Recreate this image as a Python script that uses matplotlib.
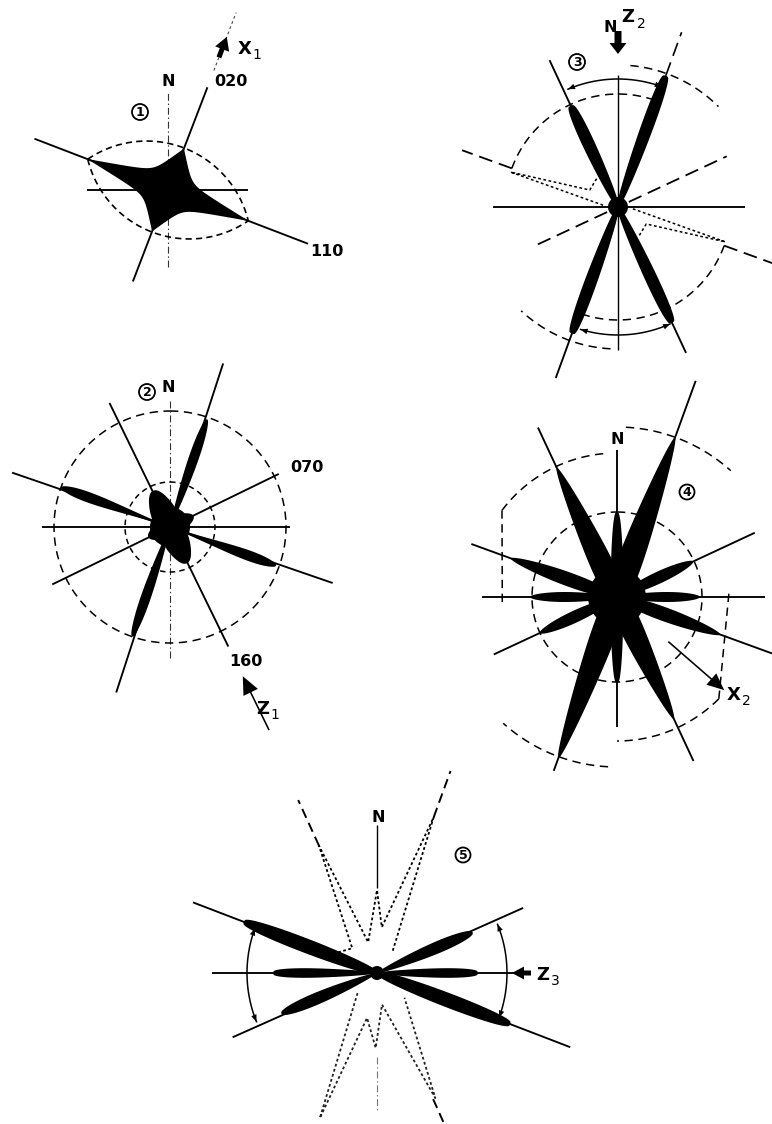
import numpy as np
import matplotlib
matplotlib.use("Agg")
import matplotlib.pyplot as plt
from matplotlib.patches import Circle, FancyArrow

plt.rcParams["lines.scale_dashes"] = False
plt.rcParams["font.family"] = ["DejaVu Sans"]

# ================= DATA =================
# azimuths in degrees clockwise from north, lengths = relative frequency (drawing scale)
p1_lobe_az = [111, 291, 21, 201]
p1_lobe_len = [86, 86, 43, 43]
p1_dir_labels = ["020", "110"]

p2_lobe_az = [19, 199, 290, 110, 335, 155, 65, 245]
p2_lobe_len = [114, 116, 116, 113, 40, 40, 26, 24]
p2_dir_labels = ["070", "160"]

p3_lobe_az = [20, 200, 335, 155]
p3_lobe_len = [140, 135, 112, 128]
p3_dot_r = [15, 113, 33, 36]
p3_dot_az = [277, 288, 301, 325]

p4_lobe_az = [20, 200, 335, 155, 0, 180, 290, 110, 65, 245, 90, 270]
p4_lobe_len = [170, 172, 143, 135, 85, 86, 113, 110, 84, 85, 83, 87]

p5_lobe_az = [291, 111, 67, 247, 90, 270]
p5_lobe_len = [143, 143, 104, 104, 101, 104]
p5_dot_n_r = [44, 35, 140, 32, 83, 46, 166, 25]
p5_dot_n_az = [298, 315, 335.5, 344, 0, 6, 20, 37]
p5_dot_s_r = [28, 156, 46, 75, 32, 138, 37]
p5_dot_s_az = [224, 201.5, 192.5, 181, 171, 155, 132]

panel_numbers = ["1", "2", "3", "4", "5"]
axis_labels = [("X", "1"), ("Z", "1"), ("Z", "2"), ("X", "2"), ("Z", "3")]

# ================= LAYOUT / STYLE =================
C1 = (168, 190)
C2 = (170, 527)
C3 = (618, 207)
C4 = (617, 597)
C5 = (377, 973)

K = "black"
LW = 1.35
THIN = 0.8
DASH = (0, (6, 4))
LDASH = (0, (10, 5))
DOT = (0, (2.0, 1.8))
DASHDOT = (0, (5, 2, 1, 2))

fig = plt.figure(figsize=(7.72, 11.24), dpi=100)
ax = fig.add_axes([0, 0, 1, 1])
ax.set_xlim(0, 772)
ax.set_ylim(1124, 0)
ax.axis("off")


def P(c, r, az):
    a = np.deg2rad(np.asarray(az, dtype=float))
    r = np.asarray(r, dtype=float)
    return c[0] + r * np.sin(a), c[1] - r * np.cos(a)


def line(c, az, rneg, rpos, **kw):
    x0, y0 = P(c, rneg, az + 180)
    x1, y1 = P(c, rpos, az)
    kw.setdefault("color", K)
    kw.setdefault("lw", LW)
    ax.plot([x0, x1], [y0, y1], solid_capstyle="butt", **kw)


def seg(c, az, r0, r1, **kw):
    x0, y0 = P(c, r0, az)
    x1, y1 = P(c, r1, az)
    kw.setdefault("color", K)
    kw.setdefault("lw", LW)
    ax.plot([x0, x1], [y0, y1], solid_capstyle="butt", **kw)


def arc(c, r, a0, a1, **kw):
    a = np.linspace(a0, a1, 160)
    x, y = P(c, r, a)
    kw.setdefault("color", K)
    kw.setdefault("lw", LW)
    ax.plot(x, y, **kw)


def head(x, y, dx, dy, hl=7, hw=2.8):
    n = np.hypot(dx, dy)
    dx, dy = dx / n, dy / n
    bx, by = x - hl * dx, y - hl * dy
    ax.fill([x, bx - hw * dy, bx + hw * dy], [y, by + hw * dx, by - hw * dx],
            color=K, lw=0, zorder=5)


def arrow_arc(c, r, a0, a1):
    arc(c, r, a0, a1, lw=1.1)
    for a, s in ((a0, -1), (a1, 1)):
        x, y = P(c, r, a)
        ar = np.deg2rad(a)
        head(x, y, s * np.cos(ar), s * np.sin(ar))


def lobe(c, az, L, W, peak, blunt, n=160):
    t = np.linspace(0, 1, n)
    k = np.log(0.5) / np.log(peak)
    w = W * np.clip(np.sin(np.pi * t ** k), 0, None) ** blunt
    a = np.deg2rad(az)
    ux, uy = np.sin(a), -np.cos(a)
    nx, ny = np.cos(a), np.sin(a)
    s = t * L
    xs = np.concatenate([c[0] + s * ux + w * nx, (c[0] + s * ux - w * nx)[::-1]])
    ys = np.concatenate([c[1] + s * uy + w * ny, (c[1] + s * uy - w * ny)[::-1]])
    ax.fill(xs, ys, color=K, lw=0, zorder=4)


def core(c, r):
    ax.add_patch(Circle(c, r, color=K, lw=0, zorder=4))


def fat_arrow(c, az, r_tail, r_tip, width, hw, hl):
    x0, y0 = P(c, r_tail, az)
    x1, y1 = P(c, r_tip, az)
    ax.add_patch(FancyArrow(x0, y0, x1 - x0, y1 - y0, width=width, head_width=hw,
                            head_length=hl, length_includes_head=True,
                            color=K, lw=0, zorder=6))


def circ_num(x, y, s, r=8):
    ax.add_patch(Circle((x, y), r, fill=False, ec=K, lw=1.3, zorder=6))
    ax.text(x, y + 0.5, s, ha="center", va="center", fontsize=9, fontweight="bold", zorder=7)


def label(x, y, s, fs=11.5):
    ax.text(x, y, s, ha="center", va="center", fontsize=fs, fontweight="bold", zorder=7)


def axlabel(x, y, big, sub):
    ax.text(x, y, big, ha="center", va="center", fontsize=13, fontweight="bold", zorder=7)
    ax.text(x + 12, y + 6, sub, ha="center", va="center", fontsize=10, zorder=7)


def polyline(c, rs, azs, **kw):
    x, y = P(c, np.array(rs), np.array(azs))
    kw.setdefault("color", K)
    kw.setdefault("lw", 1.3)
    ax.plot(x, y, **kw)


# ================= PANEL 1 =================
line(C1, 0, 77, 98, lw=THIN, ls=DASHDOT, color="#333333")
line(C1, 90, 81, 80)
line(C1, 21, 98, 110)
line(C1, 111, 143, 150)
# lens envelope
a_l, h_l = 86.0, 45.0
R_l = (a_l ** 2 + h_l ** 2) / (2 * h_l)
d_l = R_l - h_l
sl = np.linspace(-a_l, a_l, 200)
pl = np.sqrt(R_l ** 2 - sl ** 2) - d_l
aa = np.deg2rad(111)
u = np.array([np.sin(aa), -np.cos(aa)])
nn = np.array([np.cos(aa), np.sin(aa)])
for sgn in (1, -1):
    ax.plot(C1[0] + sl * u[0] + sgn * pl * nn[0], C1[1] + sl * u[1] + sgn * pl * nn[1],
            color=K, lw=1.2, ls=(0, (4.5, 3)))
# concave star (soft maximum of hyperbolic lobes)
th = np.linspace(0, 360, 4321)
kk = [0.19, 0.19, 0.6, 0.6]
pw = 3.0
acc = np.full_like(th, 18.0 ** pw)
for az_i, L_i, k_i in zip(p1_lobe_az, p1_lobe_len, kk):
    dd = np.abs(np.deg2rad((th - az_i + 180) % 360 - 180))
    acc += (L_i / (1 + dd / k_i)) ** pw
rr = acc ** (1 / pw)
xs, ys = P(C1, rr, th)
ax.fill(xs, ys, color=K, lw=0, zorder=4)
# X1 arrow
seg(C1, 21, 128, 190, lw=0.8, ls=(0, (2, 2)), color="#444444")
fat_arrow(C1, 21, 142, 164, 5, 15, 13)
axlabel(245, 49, *axis_labels[0])
label(168, 82, "N")
label(231, 82, p1_dir_labels[0])
label(327, 252, p1_dir_labels[1])
circ_num(140, 112, panel_numbers[0])

# ================= PANEL 2 =================
line(C2, 0, 131, 127, lw=THIN, ls=DASHDOT, color="#333333")
line(C2, 90, 128, 120)
line(C2, 18, 174, 172)
line(C2, 64, 131, 121)
line(C2, 154, 138, 133)
line(C2, 109, 167, 172)
arc(C2, 116, 0, 360, lw=1.1, ls=DASH)
arc(C2, 45, 0, 360, lw=1.1, ls=(0, (4, 3)))
p2_w = [5.0, 5.0, 5.2, 5.2, 13, 13, 9, 9]
p2_pk = [0.65, 0.65, 0.75, 0.75, 0.3, 0.3, 0.3, 0.3]
p2_bl = [0.45, 0.45, 0.5, 0.5, 0.45, 0.45, 0.5, 0.5]
for az_i, L_i, w_i, pk, bl in zip(p2_lobe_az, p2_lobe_len, p2_w, p2_pk, p2_bl):
    lobe(C2, az_i, L_i, w_i, pk, bl)
core(C2, 20)
fat_arrow(C2, 154, 226, 166, 1.6, 16, 18)
label(168, 387, "N")
label(307, 468, p2_dir_labels[0])
label(246, 662, p2_dir_labels[1])
axlabel(263, 709, *axis_labels[1])
circ_num(147, 392, panel_numbers[1])

# ================= PANEL 3 =================
line(C3, 0, 143, 132, lw=1.0)
line(C3, 90, 125, 127)
line(C3, 20, 182, 140)
seg(C3, 20, 140, 186, lw=1.2, ls=LDASH)
line(C3, 335, 161, 162)
arrow_arc(C3, 128, -23, 20)
arrow_arc(C3, 128, 156, 197)
arc(C3, 113, -70, 20, lw=1.1, ls=DASH)
arc(C3, 113, 110, 200, lw=1.1, ls=DASH)
arc(C3, 142, 5, 45, lw=1.1, ls=DASH)
arc(C3, 142, 183, 223, lw=1.1, ls=DASH)
seg(C3, 290, 113, 166, lw=1.3, ls=LDASH)
seg(C3, 110, 113, 164, lw=1.3, ls=LDASH)
seg(C3, 65, 12, 120, lw=1.3, ls=LDASH)
seg(C3, 245, 12, 90, lw=1.3, ls=LDASH)
polyline(C3, p3_dot_r, p3_dot_az, ls=DOT, lw=1.1)
polyline(C3, p3_dot_r, np.array(p3_dot_az) + 180, ls=DOT, lw=1.1)
for az_i, L_i in zip(p3_lobe_az, p3_lobe_len):
    lobe(C3, az_i, L_i, 6.2, 0.65, 0.25)
core(C3, 10)
fat_arrow(C3, 0, 176, 153, 7, 17, 11)
label(610, 27, "N")
ax.text(628, 17, axis_labels[2][0], ha="center", va="center", fontsize=13, fontweight="bold")
ax.text(641, 24, axis_labels[2][1], ha="center", va="center", fontsize=10)
circ_num(577, 62, panel_numbers[2])

# ================= PANEL 4 =================
line(C4, 0, 130, 147)
line(C4, 90, 135, 148)
line(C4, 20, 185, 230)
line(C4, 335, 181, 187)
line(C4, 110, 155, 165)
line(C4, 65, 136, 152)
arc(C4, 85, 0, 360, lw=1.1, ls=DASH)
arc(C4, 170, 3, 42, lw=1.1, ls=DASH)
arc(C4, 170, 183, 222, lw=1.1, ls=DASH)
arc(C4, 144, 307, 355, lw=1.1, ls=DASH)
xa, ya = P(C4, 144, 307)
xb, yb = P(C4, 115, 266)
ax.plot([xa, xb], [ya, yb], color=K, lw=1.1, ls=DASH)
arc(C4, 144, 135, 180, lw=1.1, ls=DASH)
xa, ya = P(C4, 144, 135)
xb, yb = P(C4, 112, 88)
ax.plot([xa, xb], [ya, yb], color=K, lw=1.1, ls=DASH)
p4_w = [12.5, 12.5, 11.5, 11.5, 6, 6, 7, 7, 6, 6, 5, 5]
p4_pk = [0.2, 0.2, 0.2, 0.2, 0.3, 0.3, 0.45, 0.45, 0.55, 0.55, 0.6, 0.6]
p4_bl = [0.6, 0.6, 0.6, 0.6, 0.35, 0.35, 0.55, 0.55, 0.5, 0.5, 0.5, 0.5]
for az_i, L_i, w_i, pk, bl in zip(p4_lobe_az, p4_lobe_len, p4_w, p4_pk, p4_bl):
    lobe(C4, az_i, L_i, w_i, pk, bl)
core(C4, 29)
fat_arrow(C4, 131, 68, 142, 1.6, 15, 17)
label(617, 440, "N")
axlabel(734, 695, *axis_labels[3])
circ_num(687, 492, panel_numbers[3], r=7.5)

# ================= PANEL 5 =================
seg(C5, 0, 85, 148, lw=1.0)
seg(C5, 180, 84, 139, lw=0.8, ls=DASHDOT, color="#777777")
line(C5, 90, 165, 140)
line(C5, 111, 197, 207)
line(C5, 66, 158, 160)
arrow_arc(C5, 130, 248, 290)
arrow_arc(C5, 130, 68, 110)
polyline(C5, p5_dot_n_r, p5_dot_n_az, ls=DOT)
polyline(C5, p5_dot_s_r, p5_dot_s_az, ls=DOT, color="#222222")
seg(C5, 335.5, 140, 190, lw=1.4, ls=(0, (7, 4)))
seg(C5, 20, 166, 215, lw=1.4, ls=(0, (7, 4)))
seg(C5, 156, 138, 164, lw=1.4, ls=(0, (7, 4)))
p5_w = [7.2, 7.2, 6.0, 6.0, 4.8, 4.8]
p5_pk = [0.55, 0.55, 0.65, 0.65, 0.7, 0.7]
p5_bl = [0.3, 0.3, 0.4, 0.4, 0.3, 0.3]
for az_i, L_i, w_i, pk, bl in zip(p5_lobe_az, p5_lobe_len, p5_w, p5_pk, p5_bl):
    lobe(C5, az_i, L_i, w_i, pk, bl)
core(C5, 7)
fat_arrow(C5, 90, 154, 135, 5, 13, 12)
label(378, 818, "N")
axlabel(543, 975, *axis_labels[4])
circ_num(463, 855, panel_numbers[4], r=7.5)

fig.savefig("out.png", dpi=100, facecolor="white")
